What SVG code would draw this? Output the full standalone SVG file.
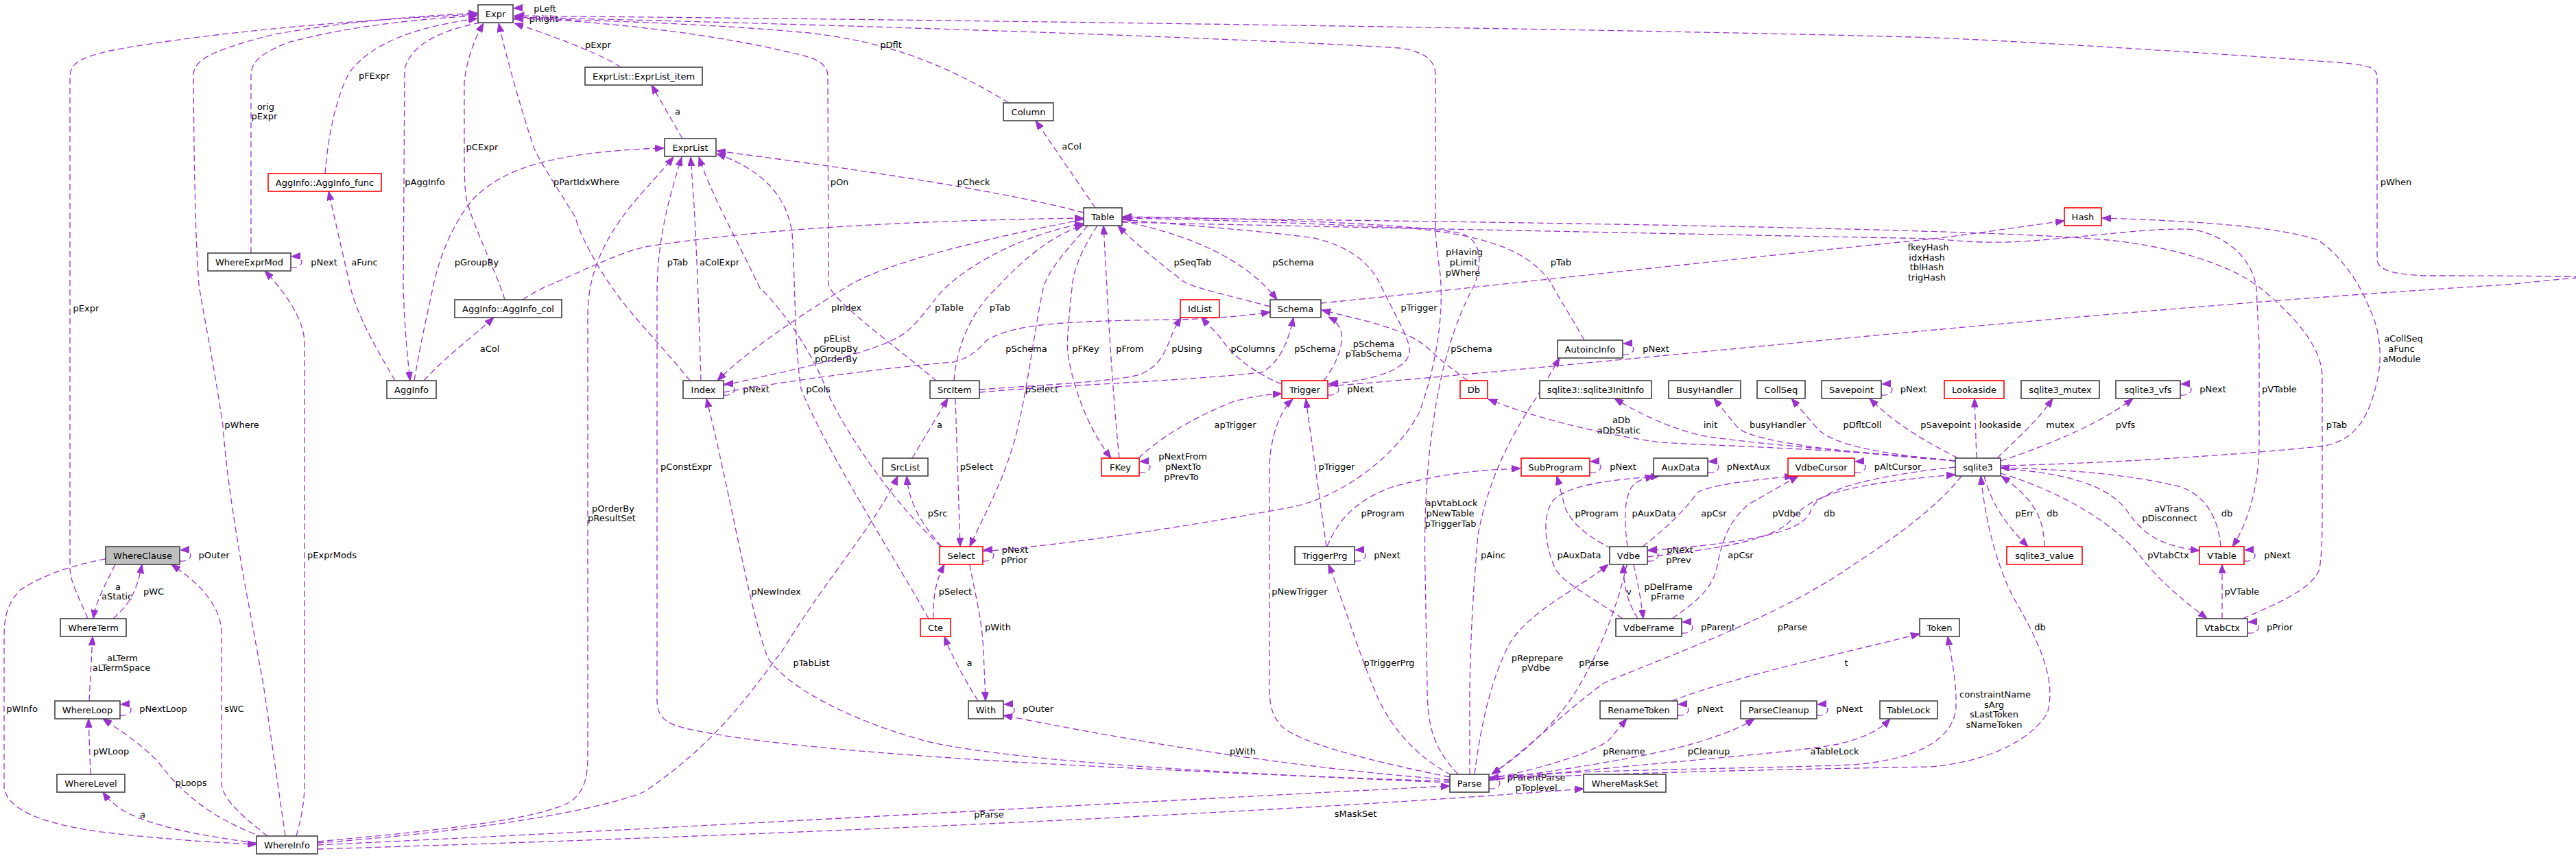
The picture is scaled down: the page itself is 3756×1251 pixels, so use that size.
<svg xmlns="http://www.w3.org/2000/svg" width="3756" height="1251" viewBox="0 0 3756 1251">
<style>
.n rect{fill:#fff;stroke:#404040;stroke-width:1.6}
.n.r rect{stroke:#ff0000}
.n.g rect{fill:#bfbfbf}
text{font-family:"DejaVu Sans","Liberation Sans",sans-serif;font-size:13px;text-anchor:middle;fill:#000}
.e path{fill:none;stroke:#9a32cd;stroke-width:1.3;stroke-dasharray:9,5;marker-end:url(#a)}
</style>
<defs>
<marker id="a" viewBox="0 0 13 10" refX="13" refY="5" markerWidth="13" markerHeight="10" markerUnits="userSpaceOnUse" orient="auto">
<path d="M0,0 L13,5 L0,10 z" fill="#9a32cd" stroke="#9a32cd" stroke-width="1"/>
</marker>
</defs>
<rect width="3756" height="1251" fill="#fff"/>
<g id="connectors">
<g class="e"><path d="M748,28 C768,30 770,11 749,12"/><text x="794.5" y="17">pLeft</text><text x="793" y="32">pRight</text></g>
<g class="e"><path d="M424,390 C444,392 446,373 425,374"/><text x="472.5" y="387">pNext</text></g>
<g class="e"><path d="M1055,576 C1075,578 1077,559 1056,560"/><text x="1102.5" y="572">pNext</text></g>
<g class="e"><path d="M1936,576 C1956,578 1958,559 1937,560"/><text x="1983.5" y="572">pNext</text></g>
<g class="e"><path d="M2366,517 C2386,519 2388,500 2367,501"/><text x="2414.5" y="513">pNext</text></g>
<g class="e"><path d="M2743,576 C2763,578 2765,559 2744,560"/><text x="2790" y="572">pNext</text></g>
<g class="e"><path d="M3179,576 C3199,578 3201,559 3180,560"/><text x="3226.5" y="572">pNext</text></g>
<g class="e"><path d="M1661,689 C1681,691 1683,672 1662,673"/><text x="1724.5" y="670">pNextFrom</text><text x="1725" y="685">pNextTo</text><text x="1722.5" y="700">pPrevTo</text></g>
<g class="e"><path d="M2318,689 C2338,691 2340,672 2319,673"/><text x="2366.5" y="685">pNext</text></g>
<g class="e"><path d="M2490,689 C2510,691 2512,672 2491,673"/><text x="2549.5" y="685">pNextAux</text></g>
<g class="e"><path d="M2704,689 C2724,691 2726,672 2705,673"/><text x="2767" y="685">pAltCursor</text></g>
<g class="e"><path d="M262,818 C282,820 284,801 263,802"/><text x="312" y="814">pOuter</text></g>
<g class="e"><path d="M1433,818 C1453,820 1455,801 1434,802"/><text x="1480" y="806">pNext</text><text x="1478.5" y="821">pPrior</text></g>
<g class="e"><path d="M1975,818 C1995,820 1997,801 1976,802"/><text x="2022.5" y="814">pNext</text></g>
<g class="e"><path d="M2402,818 C2422,820 2424,801 2403,802"/><text x="2449.5" y="806">pNext</text><text x="2447.5" y="821">pPrev</text></g>
<g class="e"><path d="M3272,818 C3292,820 3294,801 3273,802"/><text x="3320.5" y="814">pNext</text></g>
<g class="e"><path d="M2452,923 C2472,925 2474,906 2453,907"/><text x="2505" y="919">pParent</text></g>
<g class="e"><path d="M3277,923 C3297,925 3299,906 3278,907"/><text x="3324" y="919">pPrior</text></g>
<g class="e"><path d="M175,1043 C195,1045 197,1026 176,1027"/><text x="238" y="1038">pNextLoop</text></g>
<g class="e"><path d="M1463,1043 C1483,1045 1485,1026 1464,1027"/><text x="1513.5" y="1038">pOuter</text></g>
<g class="e"><path d="M2446,1043 C2466,1045 2468,1026 2447,1027"/><text x="2493.5" y="1038">pNext</text></g>
<g class="e"><path d="M2649,1043 C2669,1045 2671,1026 2650,1027"/><text x="2696.5" y="1038">pNext</text></g>
<g class="e"><path d="M2171,1150 C2191,1152 2193,1133 2172,1134"/><text x="2240" y="1138">pParentParse</text><text x="2240" y="1153">pToplevel</text></g>

<g class="e"><path d="M905,98 C880,80 800,50 750,34"/><text x="872" y="70">pExpr</text></g>
<g class="e"><path d="M995,202 L950,124"/><text x="988" y="167">a</text></g>
<g class="e"><path d="M1471,150 C1380,95 1300,62 1180,48 C1050,36 900,30 750,27"/><text x="1299" y="70">pDflt</text></g>
<g class="e"><path d="M1580,310 C1450,275 1200,240 1045,220"/><text x="1419.5" y="270">pCheck</text></g>
<g class="e"><path d="M1597,303 L1510,176"/><text x="1562.5" y="218">aCol</text></g>
<g class="e"><path d="M1366,556 C1300,500 1215,440 1208,415 L1207,110 C1206,92 1190,84 1150,76 C1050,52 900,32 750,26"/><text x="1224" y="270">pOn</text></g>
<g class="e"><path d="M1433,804 C1600,790 1800,755 1880,740 C1960,725 2040,660 2070,600 C2095,530 2105,460 2100,400 C2096,370 2093,350 2093,330 L2093,110 C2093,90 2080,75 2040,70 C1800,55 1200,35 750,25"/><text x="2135" y="372">pHaving</text><text x="2134" y="387">pLimit</text><text x="2133" y="402">pWhere</text></g>
<g class="e"><path d="M1937,563 C2300,535 3000,455 3655,415 C3720,408 3760,405 3770,404 C3700,402 3600,402 3535,402 C3490,400 3466,394 3466,378 L3466,112 C3466,98 3450,95 3420,92 C3200,75 2900,58 2820,55 C2500,45 1500,30 750,23"/><text x="3493.5" y="270">pWhen</text></g>
<g class="e"><path d="M474,253 C478,200 490,140 510,105 C540,65 600,40 696,27"/><text x="545.5" y="115">pFExpr</text></g>
<g class="e"><path d="M700,33 C640,45 600,65 590,100 L588,420 C590,480 594,520 598,555"/><text x="619.5" y="270">pAggInfo</text></g>
<g class="e"><path d="M736,437 C725,400 690,330 680,290 C677,270 677,250 677,200 L677,120 C680,90 690,60 705,34"/><text x="703" y="219">pCExpr</text></g>
<g class="e"><path d="M1006,555 C975,515 920,460 893,420 C865,380 845,340 839,317 C810,270 790,240 779,217 C760,160 740,90 727,34"/><text x="855" y="270">pPartIdxWhere</text></g>
<g class="e"><path d="M366,369 L366,110 C366,90 380,78 420,62 C500,40 600,28 696,23"/><text x="387.5" y="160">orig</text><text x="385.5" y="174">pExpr</text></g>
<g class="e"><path d="M128,902 C115,870 103,850 102,830 L102,112 C102,92 118,84 160,74 C300,48 500,30 696,21"/><text x="125.5" y="454">pExpr</text></g>
<g class="e"><path d="M416,1219 L384,998 L354,835 C340,750 330,690 325,620 C310,520 295,450 290,415 C285,350 283,250 282,110 C282,90 300,75 400,50 C500,32 600,24 696,19"/><text x="352.5" y="624">pWhere</text></g>
<g class="e"><path d="M1022,555 C1019,450 1015,350 1012,300 L1007,229"/><text x="1049" y="387">aColExpr</text></g>
<g class="e"><path d="M2114,1139 C1900,1133 1600,1118 1480,1111 C1300,1100 1100,1085 1000,1062 C970,1055 958,1045 958,1020 L958,430 C958,350 975,290 994,229"/><text x="1000.5" y="685">pConstExpr</text></g>
<g class="e"><path d="M463,1227 C650,1210 780,1195 830,1170 C852,1155 857,1135 857,1100 L857,460 C857,400 880,350 920,300 C945,270 965,250 982,229"/><text x="894" y="746">pOrderBy</text><text x="892" y="760">pResultSet</text></g>
<g class="e"><path d="M604,555 C615,490 625,450 632,415 C645,360 665,320 690,290 C730,250 790,225 940,217 L968,216"/><text x="695" y="387">pGroupBy</text></g>
<g class="e"><path d="M1372,797 C1300,730 1240,640 1210,580 C1180,500 1130,440 1108,420 C1070,340 1040,290 1019,229"/><text x="1220.5" y="498">pEList</text><text x="1218.5" y="513">pGroupBy</text><text x="1219" y="528">pOrderBy</text></g>
<g class="e"><path d="M1354,902 C1320,840 1200,650 1168,567 C1158,500 1160,420 1155,340 C1145,270 1090,240 1045,224"/><text x="1193" y="572">pCols</text></g>
<g class="e"><path d="M1580,320 C1450,345 1300,380 1240,415 C1150,470 1080,520 1046,555"/><text x="1234" y="453">pIndex</text></g>
<g class="e"><path d="M1055,562 C1150,540 1280,515 1320,485 C1345,465 1362,435 1378,420 C1420,380 1500,340 1580,326"/><text x="1384" y="453">pTable</text></g>
<g class="e"><path d="M1391,555 C1395,500 1420,450 1453,420 C1490,380 1530,345 1580,328"/><text x="1458" y="453">pTab</text></g>
<g class="e"><path d="M762,437 C780,425 795,418 803,415 C860,390 900,370 940,360 C1100,335 1300,322 1580,318"/><text x="988" y="387">pTab</text></g>
<g class="e"><path d="M1586,329 C1560,360 1530,390 1521,420 C1505,500 1500,560 1480,640 C1460,710 1430,760 1414,797"/><text x="1519" y="572">pSelect</text></g>
<g class="e"><path d="M1600,329 C1580,360 1565,390 1563,420 C1558,470 1555,500 1557,515 C1565,570 1590,630 1620,668"/><text x="1583" y="513">pFKey</text></g>
<g class="e"><path d="M1632,668 C1625,600 1618,500 1614,420 L1609,329"/><text x="1647.5" y="513">pFrom</text></g>
<g class="e"><path d="M1852,447 C1790,430 1740,420 1725,410 C1700,390 1660,360 1630,329"/><text x="1739" y="387">pSeqTab</text></g>
<g class="e"><path d="M1636,322 C1720,340 1810,370 1862,437"/><text x="1885.5" y="387">pSchema</text></g>
<g class="e"><path d="M2310,496 C2290,460 2270,430 2260,410 C2230,370 2180,345 2060,333 C1900,325 1750,320 1636,318"/><text x="2276" y="387">pTab</text></g>
<g class="e"><path d="M2126,1129 C2090,1090 2081,1060 2081,1000 L2078,835 C2076,760 2080,680 2090,615 C2100,540 2120,470 2150,415 C2162,380 2160,350 2130,340 C2050,325 1800,318 1637,316"/><text x="2116.5" y="738">apVtabLock</text><text x="2114.5" y="753">pNewTable</text><text x="2115" y="768">pTriggerTab</text></g>
<g class="e"><path d="M1636,320 C1750,330 1850,338 1916,347 C1970,360 2000,385 2015,420 C2040,470 2058,500 2055,515 C2050,540 2000,555 1938,560"/><text x="2069" y="453">pTrigger</text></g>
<g class="e"><path d="M3270,902 C3320,880 3370,860 3382,830 C3386,800 3386,780 3386,750 L3386,548 C3385,505 3345,460 3296,420 C3250,385 3170,360 3074,350 C2900,334 2300,325 1637,317"/><text x="3407" y="624">pTab</text></g>
<g class="e"><path d="M1636,324 C2000,332 2500,342 2820,348 C2860,352 2894,355 2950,352 C3050,345 3150,330 3200,335 C3250,345 3285,380 3290,420 L3294,500 L3294,650 C3294,700 3280,760 3255,797"/><text x="3323.5" y="572">pVTable</text></g>
<g class="e"><path d="M1926,442 C2100,425 2500,380 2820,348 C2900,338 2950,330 3010,322"/><text x="2811.5" y="365">fkeyHash</text><text x="2809.5" y="380">idxHash</text><text x="2809.5" y="394">tblHash</text><text x="2809.5" y="409">trigHash</text></g>
<g class="e"><path d="M2917,679 C3100,675 3300,660 3390,650 C3440,640 3455,600 3465,560 C3475,520 3470,480 3455,450 C3440,410 3410,370 3380,350 C3320,330 3200,322 3065,318"/><text x="3504.5" y="498">aCollSeq</text><text x="3501.5" y="513">aFunc</text><text x="3502" y="528">aModule</text></g>
<g class="e"><path d="M1930,555 C1950,530 1960,500 1955,482 C1950,470 1945,466 1937,462"/><text x="2003" y="506">pSchema</text><text x="2003" y="520">pTabSchema</text></g>
<g class="e"><path d="M1428,572 C1540,562 1720,556 1839,543 C1865,530 1878,500 1886,463"/><text x="1917.5" y="513">pSchema</text></g>
<g class="e"><path d="M1055,572 C1150,555 1300,535 1390,528 C1420,520 1430,505 1440,495 C1480,475 1520,468 1719,466 C1780,464 1820,460 1852,455"/><text x="1496.5" y="513">pSchema</text></g>
<g class="e"><path d="M1428,568 C1540,560 1640,555 1665,545 C1695,530 1700,510 1712,480 L1722,463"/><text x="1730.5" y="513">pUsing</text></g>
<g class="e"><path d="M1869,560 C1830,545 1800,520 1785,500 C1775,485 1762,475 1752,463"/><text x="1827" y="513">pColumns</text></g>
<g class="e"><path d="M2140,555 C2120,540 2100,525 2090,515 C2070,495 2050,485 2000,470 L1927,452"/><text x="2145.5" y="513">pSchema</text></g>
<g class="e"><path d="M1660,668 C1700,630 1760,600 1800,585 C1830,577 1850,575 1869,574"/><text x="1801" y="624">apTrigger</text></g>
<g class="e"><path d="M1934,797 L1904,582"/><text x="1949" y="685">pTrigger</text></g>
<g class="e"><path d="M2114,1133 C2000,1110 1900,1085 1870,1060 C1855,1045 1851,1030 1851,1000 L1851,680 C1852,640 1865,600 1885,582"/><text x="1895" y="867">pNewTrigger</text></g>
<g class="e"><path d="M1935,797 C1950,760 1975,730 2030,710 C2100,690 2160,685 2217,683"/><text x="2016" y="753">pProgram</text></g>
<g class="e"><path d="M2116,1130 C2060,1100 2030,1060 2010,1020 C1980,950 1960,880 1937,823"/><text x="2025.5" y="971">pTriggerPrg</text></g>
<g class="e"><path d="M2143,1129 L2143,1000 C2145,900 2150,840 2155,780 C2170,700 2200,640 2240,580 L2274,522"/><text x="2177" y="814">pAinc</text></g>
<g class="e"><path d="M2350,800 C2310,780 2290,760 2282,740 L2270,694"/><text x="2328" y="753">pProgram</text></g>
<g class="e"><path d="M2373,797 C2368,760 2368,730 2378,712 C2385,700 2400,697 2412,694"/><text x="2411.5" y="753">pAuxData</text></g>
<g class="e"><path d="M2366,902 C2320,870 2280,850 2268,830 C2250,790 2250,750 2264,730 C2290,705 2350,700 2420,694"/><text x="2302.5" y="814">pAuxData</text></g>
<g class="e"><path d="M2395,797 C2430,770 2460,740 2475,718 C2500,705 2560,700 2615,694"/><text x="2499" y="753">apCsr</text></g>
<g class="e"><path d="M2438,902 C2470,880 2495,860 2503,830 C2510,790 2520,760 2550,735 L2622,694"/><text x="2538" y="814">apCsr</text></g>
<g class="e"><path d="M2851,681 C2720,695 2650,715 2640,745 C2630,775 2560,790 2403,803"/><text x="2605" y="753">pVdbe</text></g>
<g class="e"><path d="M2402,812 C2500,800 2580,790 2610,760 C2640,720 2700,705 2851,692"/><text x="2667.5" y="753">db</text></g>
<g class="e"><path d="M2851,672 C2700,655 2500,650 2420,645 C2330,632 2240,610 2170,582"/><text x="2364" y="617">aDb</text><text x="2360.5" y="632">aDbStatic</text></g>
<g class="e"><path d="M2851,672 C2700,657 2560,648 2480,635 C2430,622 2390,603 2354,581"/><text x="2494" y="624">init</text></g>
<g class="e"><path d="M2851,672 C2650,657 2560,642 2535,625 L2499,581"/><text x="2592" y="624">busyHandler</text></g>
<g class="e"><path d="M2851,672 C2720,660 2670,645 2650,625 L2612,581"/><text x="2715.5" y="624">pDfltColl</text></g>
<g class="e"><path d="M2855,668 C2800,640 2760,615 2726,581"/><text x="2837" y="624">pSavepoint</text></g>
<g class="e"><path d="M2882,668 L2879,581"/><text x="2916.5" y="624">lookaside</text></g>
<g class="e"><path d="M2912,668 C2940,640 2970,615 2993,581"/><text x="3004" y="624">mutex</text></g>
<g class="e"><path d="M2917,672 C3000,645 3070,612 3110,581"/><text x="3099" y="624">pVfs</text></g>
<g class="e"><path d="M2893,694 C2905,740 2930,770 2957,797"/><text x="2952" y="753">pErr</text></g>
<g class="e"><path d="M2981,797 C2980,760 2970,730 2918,694"/><text x="2992.5" y="753">db</text></g>
<g class="e"><path d="M2917,683 C3020,690 3080,710 3105,750 C3130,785 3160,797 3207,803"/><text x="3166.5" y="746">aVTrans</text><text x="3163.5" y="760">pDisconnect</text></g>
<g class="e"><path d="M3238,797 C3235,760 3220,725 3180,710 C3100,690 3000,684 2917,682"/><text x="3247" y="753">db</text></g>
<g class="e"><path d="M2917,690 C3000,715 3080,760 3120,810 C3150,850 3190,880 3218,902"/><text x="3161.5" y="814">pVtabCtx</text></g>
<g class="e"><path d="M3240,902 L3240,823"/><text x="3269" y="867">pVTable</text></g>
<g class="e"><path d="M2860,694 C2840,720 2800,760 2700,825 C2600,895 2450,950 2340,995 C2290,1030 2230,1090 2175,1129"/><text x="2613.5" y="919">pParse</text></g>
<g class="e"><path d="M2171,1136 C2400,1125 2700,1120 2816,1118 C2900,1110 2960,1080 2985,1040 C3000,990 2970,930 2935,870 C2910,820 2895,760 2888,694"/><text x="2974.5" y="919">db</text></g>
<g class="e"><path d="M2171,1133 C2300,1122 2600,1120 2700,1115 C2800,1108 2850,1075 2852,1030 C2853,990 2845,960 2840,928"/><text x="2909" y="1017">constraintName</text><text x="2907.5" y="1032">sArg</text><text x="2907.5" y="1046">sLastToken</text><text x="2907.5" y="1061">sNameToken</text></g>
<g class="e"><path d="M2437,1022 C2550,980 2700,950 2799,924"/><text x="2692" y="971">t</text></g>
<g class="e"><path d="M2171,1136 C2250,1120 2320,1098 2345,1080 L2372,1048"/><text x="2368" y="1100">pRename</text></g>
<g class="e"><path d="M2171,1137 C2300,1120 2420,1100 2480,1081 C2520,1068 2540,1060 2558,1048"/><text x="2491.5" y="1100">pCleanup</text></g>
<g class="e"><path d="M2171,1138 C2400,1112 2600,1100 2680,1085 C2720,1075 2740,1065 2756,1048"/><text x="2675" y="1100">aTableLock</text></g>
<g class="e"><path d="M2150,1129 C2160,1050 2175,990 2200,940 C2230,890 2300,860 2345,823"/><text x="2241.5" y="964">pReprepare</text><text x="2239.5" y="978">pVdbe</text></g>
<g class="e"><path d="M2372,823 C2360,880 2330,960 2290,1020 C2250,1075 2210,1105 2175,1129"/><text x="2324" y="971">pParse</text></g>
<g class="e"><path d="M2388,902 C2375,880 2367,860 2367,823"/><text x="2375" y="867">v</text></g>
<g class="e"><path d="M2382,823 C2388,850 2392,870 2396,902"/><text x="2432.5" y="860">pDelFrame</text><text x="2431.5" y="874">pFrame</text></g>
<g class="e"><path d="M2114,1137 C1900,1120 1700,1090 1463,1043"/><text x="1812" y="1100">pWith</text></g>
<g class="e"><path d="M2114,1141 C1800,1128 1500,1112 1360,1083 C1250,1055 1150,1005 1120,960 C1095,900 1065,720 1030,581"/><text x="1131.5" y="867">pNewIndex</text></g>
<g class="e"><path d="M463,1232 C900,1212 1600,1172 2114,1146"/><text x="1442" y="1192">pParse</text></g>
<g class="e"><path d="M463,1238 C1000,1222 1800,1190 2309,1150"/><text x="1976.5" y="1191">sMaskSet</text></g>
<g class="e"><path d="M463,1229 C700,1212 880,1180 940,1154 C1050,1080 1100,1000 1140,950 C1200,850 1280,760 1309,694"/><text x="1183" y="971">pTabList</text></g>
<g class="e"><path d="M1373,797 C1340,760 1325,730 1322,694"/><text x="1367" y="753">pSrc</text></g>
<g class="e"><path d="M1330,668 L1382,581"/><text x="1370" y="624">a</text></g>
<g class="e"><path d="M1393,581 L1400,797"/><text x="1424" y="685">pSelect</text></g>
<g class="e"><path d="M1361,902 C1360,870 1365,845 1377,823"/><text x="1393" y="867">pSelect</text></g>
<g class="e"><path d="M1426,1022 C1400,980 1385,950 1377,928"/><text x="1413.5" y="971">a</text></g>
<g class="e"><path d="M1414,823 C1420,860 1432,900 1434,950 L1437,1022"/><text x="1455" y="919">pWith</text></g>
<g class="e"><path d="M432,1219 C440,1190 444,1170 444,1140 L444,500 C444,470 420,430 386,395"/><text x="484" y="814">pExprMods</text></g>
<g class="e"><path d="M384,1221 C300,1190 260,1150 230,1110 C200,1080 175,1065 150,1048"/><text x="278.5" y="1146">pLoops</text></g>
<g class="e"><path d="M374,1229 C300,1220 220,1205 180,1182 C165,1172 157,1165 150,1155"/><text x="208" y="1192">a</text></g>
<g class="e"><path d="M154,815 C100,825 60,840 30,860 C10,880 6,900 6,930 L6,1148 C10,1180 60,1200 140,1212 C220,1222 300,1228 374,1231"/><text x="32" y="1038">pWInfo</text></g>
<g class="e"><path d="M390,1219 C340,1180 323,1160 323,1140 L323,920 C320,880 290,850 250,823"/><text x="341.5" y="1038">sWC</text></g>
<g class="e"><path d="M168,823 C155,850 140,875 136,902"/><text x="172" y="860">a</text><text x="170.5" y="874">aStatic</text></g>
<g class="e"><path d="M165,902 C190,880 200,860 207,823"/><text x="224" y="867">pWC</text></g>
<g class="e"><path d="M130,1022 L135,928"/><text x="178.5" y="964">aLTerm</text><text x="177" y="978">aLTermSpace</text></g>
<g class="e"><path d="M132,1129 L129,1048"/><text x="162" y="1100">pWLoop</text></g>
<g class="e"><path d="M576,555 C550,510 520,460 510,415 L479,279"/><text x="531.5" y="387">aFunc</text></g>
<g class="e"><path d="M618,555 C650,520 690,490 720,463"/><text x="714" y="513">aCol</text></g>
</g>
<g id="nodes">
<g id="n-Expr" class="n"><rect x="697" y="7" width="51" height="26"/><text x="722.5" y="25">Expr</text></g>
<g id="n-ExprList_item" class="n"><rect x="853" y="98" width="171" height="26"/><text x="938.5" y="116">ExprList::ExprList_item</text></g>
<g id="n-Column" class="n"><rect x="1463" y="150" width="73" height="26"/><text x="1499.5" y="168">Column</text></g>
<g id="n-ExprList" class="n"><rect x="969" y="202" width="75" height="26"/><text x="1006.5" y="220">ExprList</text></g>
<g id="n-AggInfo_func" class="n r"><rect x="391" y="253" width="165" height="26"/><text x="473.5" y="271">AggInfo::AggInfo_func</text></g>
<g id="n-Table" class="n"><rect x="1580" y="303" width="56" height="26"/><text x="1608" y="321">Table</text></g>
<g id="n-Hash" class="n r"><rect x="3010" y="303" width="54" height="26"/><text x="3037" y="321">Hash</text></g>
<g id="n-WhereExprMod" class="n"><rect x="303" y="369" width="121" height="26"/><text x="363.5" y="387">WhereExprMod</text></g>
<g id="n-AggInfo_col" class="n"><rect x="663" y="437" width="156" height="26"/><text x="741" y="455">AggInfo::AggInfo_col</text></g>
<g id="n-IdList" class="n r"><rect x="1721" y="437" width="57" height="26"/><text x="1749.5" y="455">IdList</text></g>
<g id="n-Schema" class="n"><rect x="1852" y="437" width="74" height="26"/><text x="1889" y="455">Schema</text></g>
<g id="n-AutoincInfo" class="n"><rect x="2271" y="496" width="95" height="26"/><text x="2318.5" y="514">AutoincInfo</text></g>
<g id="n-AggInfo" class="n"><rect x="564" y="555" width="72" height="26"/><text x="600" y="573">AggInfo</text></g>
<g id="n-Index" class="n"><rect x="996" y="555" width="59" height="26"/><text x="1025.5" y="573">Index</text></g>
<g id="n-SrcItem" class="n"><rect x="1356" y="555" width="72" height="26"/><text x="1392" y="573">SrcItem</text></g>
<g id="n-Trigger" class="n r"><rect x="1869" y="555" width="67" height="26"/><text x="1902.5" y="573">Trigger</text></g>
<g id="n-Db" class="n r"><rect x="2129" y="555" width="40" height="26"/><text x="2149" y="573">Db</text></g>
<g id="n-sqlite3InitInfo" class="n"><rect x="2245" y="555" width="163" height="26"/><text x="2326.5" y="573">sqlite3::sqlite3InitInfo</text></g>
<g id="n-BusyHandler" class="n"><rect x="2433" y="555" width="105" height="26"/><text x="2485.5" y="573">BusyHandler</text></g>
<g id="n-CollSeq" class="n"><rect x="2562" y="555" width="70" height="26"/><text x="2597" y="573">CollSeq</text></g>
<g id="n-Savepoint" class="n"><rect x="2656" y="555" width="87" height="26"/><text x="2699.5" y="573">Savepoint</text></g>
<g id="n-Lookaside" class="n r"><rect x="2835" y="555" width="87" height="26"/><text x="2878.5" y="573">Lookaside</text></g>
<g id="n-sqlite3_mutex" class="n"><rect x="2947" y="555" width="114" height="26"/><text x="3004" y="573">sqlite3_mutex</text></g>
<g id="n-sqlite3_vfs" class="n"><rect x="3085" y="555" width="94" height="26"/><text x="3132" y="573">sqlite3_vfs</text></g>
<g id="n-SrcList" class="n"><rect x="1287" y="668" width="66" height="26"/><text x="1320" y="686">SrcList</text></g>
<g id="n-FKey" class="n r"><rect x="1606" y="668" width="55" height="26"/><text x="1633.5" y="686">FKey</text></g>
<g id="n-SubProgram" class="n r"><rect x="2218" y="668" width="100" height="26"/><text x="2268" y="686">SubProgram</text></g>
<g id="n-AuxData" class="n"><rect x="2411" y="668" width="79" height="26"/><text x="2450.5" y="686">AuxData</text></g>
<g id="n-VdbeCursor" class="n r"><rect x="2607" y="668" width="97" height="26"/><text x="2655.5" y="686">VdbeCursor</text></g>
<g id="n-sqlite3" class="n"><rect x="2851" y="668" width="66" height="26"/><text x="2884" y="686">sqlite3</text></g>
<g id="n-WhereClause" class="n g"><rect x="154" y="797" width="108" height="26"/><text x="208" y="815">WhereClause</text></g>
<g id="n-Select" class="n r"><rect x="1370" y="797" width="63" height="26"/><text x="1401.5" y="815">Select</text></g>
<g id="n-TriggerPrg" class="n"><rect x="1888" y="797" width="87" height="26"/><text x="1931.5" y="815">TriggerPrg</text></g>
<g id="n-Vdbe" class="n"><rect x="2347" y="797" width="55" height="26"/><text x="2374.5" y="815">Vdbe</text></g>
<g id="n-sqlite3_value" class="n r"><rect x="2926" y="797" width="110" height="26"/><text x="2981" y="815">sqlite3_value</text></g>
<g id="n-VTable" class="n r"><rect x="3207" y="797" width="65" height="26"/><text x="3239.5" y="815">VTable</text></g>
<g id="n-WhereTerm" class="n"><rect x="88" y="902" width="96" height="26"/><text x="136" y="920">WhereTerm</text></g>
<g id="n-Cte" class="n r"><rect x="1342" y="902" width="44" height="26"/><text x="1364" y="920">Cte</text></g>
<g id="n-VdbeFrame" class="n"><rect x="2356" y="902" width="96" height="26"/><text x="2404" y="920">VdbeFrame</text></g>
<g id="n-Token" class="n"><rect x="2799" y="902" width="58" height="26"/><text x="2828" y="920">Token</text></g>
<g id="n-VtabCtx" class="n"><rect x="3203" y="902" width="74" height="26"/><text x="3240" y="920">VtabCtx</text></g>
<g id="n-WhereLoop" class="n"><rect x="80" y="1022" width="95" height="26"/><text x="127.5" y="1040">WhereLoop</text></g>
<g id="n-With" class="n"><rect x="1412" y="1022" width="51" height="26"/><text x="1437.5" y="1040">With</text></g>
<g id="n-RenameToken" class="n"><rect x="2333" y="1022" width="113" height="26"/><text x="2389.5" y="1040">RenameToken</text></g>
<g id="n-ParseCleanup" class="n"><rect x="2538" y="1022" width="111" height="26"/><text x="2593.5" y="1040">ParseCleanup</text></g>
<g id="n-TableLock" class="n"><rect x="2741" y="1022" width="84" height="26"/><text x="2783" y="1040">TableLock</text></g>
<g id="n-WhereLevel" class="n"><rect x="83" y="1129" width="99" height="26"/><text x="132.5" y="1147">WhereLevel</text></g>
<g id="n-Parse" class="n"><rect x="2114" y="1129" width="57" height="26"/><text x="2142.5" y="1147">Parse</text></g>
<g id="n-WhereMaskSet" class="n"><rect x="2309" y="1129" width="120" height="26"/><text x="2369" y="1147">WhereMaskSet</text></g>
<g id="n-WhereInfo" class="n"><rect x="374" y="1219" width="89" height="26"/><text x="418.5" y="1237">WhereInfo</text></g>
</g>
</svg>
